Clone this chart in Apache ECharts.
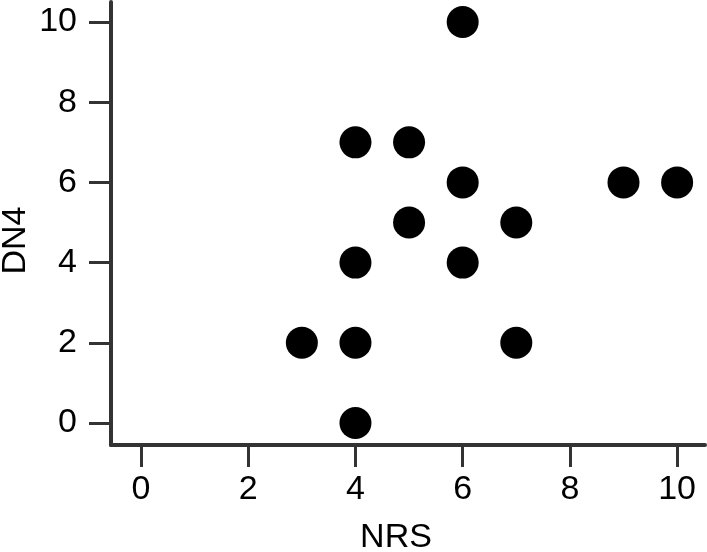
<!DOCTYPE html>
<html><head><meta charset="utf-8">
<script src="https://cdn.jsdelivr.net/npm/echarts@6/dist/echarts.min.js"></script>
<style>html,body{margin:0;padding:0;background:#fff}#c{width:707px;height:552px}</style>
</head><body><div id="c"></div>
<script>
var nrs = [3, 4, 4, 4, 4, 5, 5, 6, 6, 6, 7, 7, 9, 10];
var dn4 = [2, 0, 2, 4, 7, 7, 5, 10, 6, 4, 5, 2, 6, 6];
var xTicks = [0, 2, 4, 6, 8, 10];
var yTicks = [0, 2, 4, 6, 8, 10];
var points = nrs.map(function (v, i) { return [v, dn4[i]]; });
var font = 'Liberation Sans, Arial, sans-serif';
var chart = echarts.init(document.getElementById('c'));
chart.setOption({
  animation: false,
  grid: { left: 111, right: 2, top: 2, bottom: 107, containLabel: false, outerBoundsMode: 'none' },
  xAxis: {
    type: 'value', min: -0.56, max: 10.52,
    name: 'NRS', nameLocation: 'middle', nameGap: 76, nameMoveOverlap: false,
    nameTextStyle: { color: '#000', fontSize: 34, fontFamily: font, padding: [0, 24, 0, 0] },
    axisLine: { show: true, onZero: false, lineStyle: { color: '#333', width: 4 } },
    axisTick: { show: true, customValues: xTicks, length: 22, inside: false, lineStyle: { color: '#333', width: 3 } },
    axisLabel: { customValues: xTicks, color: '#000', fontSize: 34, fontFamily: font, margin: 28 },
    splitLine: { show: false }
  },
  yAxis: {
    type: 'value', min: -0.55, max: 10.5,
    name: 'DN4', nameLocation: 'middle', nameGap: 78, nameRotate: 90, nameMoveOverlap: false,
    nameTextStyle: { color: '#000', fontSize: 34, fontFamily: font, padding: [0, 34, 0, 0] },
    axisLine: { show: true, onZero: false, lineStyle: { color: '#333', width: 4 } },
    axisTick: { show: true, customValues: yTicks, length: 22, lineStyle: { color: '#333', width: 3 } },
    axisLabel: { customValues: yTicks, color: '#000', fontSize: 34, fontFamily: font, margin: 34 },
    splitLine: { show: false }
  },
  series: [{
    type: 'scatter', data: points, symbol: 'circle', symbolSize: 32,
    itemStyle: { color: '#000', opacity: 1 }
  }]
});
</script></body></html>
